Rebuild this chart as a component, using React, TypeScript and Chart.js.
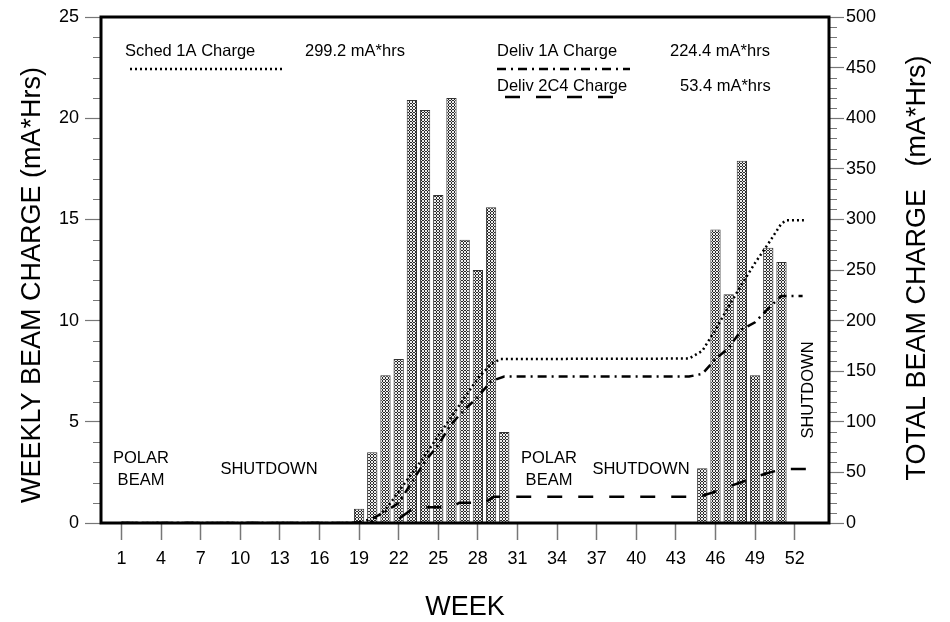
import React, { useEffect, useRef } from "react";
import { Chart, registerables } from "chart.js";

Chart.register(...registerables);

// ---- data ----
const weekTicks = [1, 4, 7, 10, 13, 16, 19, 22, 25, 28, 31, 34, 37, 40, 43, 46, 49, 52];
const leftTicks = [0, 5, 10, 15, 20, 25];
const rightTicks = [0, 50, 100, 150, 200, 250, 300, 350, 400, 450, 500];

const barWeeks = [19, 20, 21, 22, 23, 24, 25, 26, 27, 28, 29, 30, 45, 46, 47, 48, 49, 50, 51];
const weeklyCharge = [0.7, 3.5, 7.3, 8.1, 20.9, 20.4, 16.2, 21.0, 14.0, 12.5, 15.6, 4.5, 2.7, 14.5, 11.3, 17.9, 7.3, 13.6, 12.9];

const schedWeeks = [1, 19.8, 21, 22, 23, 24, 25, 26, 27, 28, 29, 29.7, 44, 45, 46, 47, 48, 49, 50, 51, 51.4, 52.7];
const schedTotal = [0, 0, 13, 31, 49, 67, 86, 105, 124, 143, 157, 162, 162.5, 170, 191, 214, 236, 257, 276, 296, 299.2, 299.2];

const deliv1AWeeks = [1, 18, 19, 20, 21, 22, 23, 24, 25, 26, 27, 28, 29, 30, 44, 45, 46, 47, 48, 49, 50, 51, 52.6];
const deliv1ATotal = [0, 0, 0.7, 4.2, 11.5, 19.6, 40.5, 60.9, 77.1, 98.1, 112.1, 124.6, 140.2, 144.7, 144.7, 147.4, 161.9, 173.2, 191.1, 198.4, 212.0, 224.4, 224.4];

const deliv2C4Weeks = [1, 21.6, 23.2, 26, 26.6, 28.5, 29.2, 44.5, 45, 46, 47, 48, 49, 50, 51, 51.5, 53];
const deliv2C4Total = [0, 0, 15.5, 15.5, 20, 20, 26, 26, 27, 31, 36, 40.5, 45.5, 49.5, 53, 53.4, 53.4];

const FONT = "'Liberation Sans', Arial, sans-serif";
const DOTTED = [2, 3];
const DASHDOT = [9, 5, 2, 5];
const LONGDASH = [15, 16];

function makePattern(): CanvasPattern | string {
  const c = document.createElement("canvas");
  c.width = 3;
  c.height = 3;
  const g = c.getContext("2d");
  if (!g) return "#999";
  g.fillStyle = "#eeeeee";
  g.fillRect(0, 0, 3, 3);
  g.fillStyle = "#2a2a2a";
  g.fillRect(1, 0, 1, 1);
  g.fillRect(0, 1, 1, 1);
  g.fillRect(2, 1, 1, 1);
  g.fillRect(1, 2, 1, 1);
  const p = g.createPattern(c, "repeat");
  return p || "#999";
}

const decorPlugin = {
  id: "decor",
  afterDraw(chart: any) {
    const { ctx, chartArea } = chart;
    const { left, right, top, bottom } = chartArea;
    const yS = chart.scales.y;
    const y2S = chart.scales.y2;
    ctx.save();
    // minor ticks
    ctx.strokeStyle = "#777";
    ctx.lineWidth = 1.2;
    ctx.beginPath();
    for (let v = 0; v <= 25; v++) {
      if (v % 5 === 0) continue;
      const y = Math.round(yS.getPixelForValue(v)) + 0.5;
      ctx.moveTo(left - 8, y);
      ctx.lineTo(left, y);
    }
    for (let v = 0; v <= 500; v += 10) {
      if (v % 50 === 0) continue;
      const y = Math.round(y2S.getPixelForValue(v)) + 0.5;
      ctx.moveTo(right, y);
      ctx.lineTo(right + 8, y);
    }
    ctx.stroke();
    // frame
    ctx.strokeStyle = "#000";
    ctx.lineWidth = 3;
    ctx.strokeRect(left, top, right - left, bottom - top);

    // axis titles
    ctx.fillStyle = "#000";
    ctx.textAlign = "center";
    ctx.textBaseline = "middle";
    ctx.font = `27px ${FONT}`;
    ctx.fillText("WEEK", 465, 608);
    ctx.save();
    ctx.translate(33, 285);
    ctx.rotate(-Math.PI / 2);
    ctx.fillText("WEEKLY BEAM CHARGE (mA*Hrs)", 0, 0);
    ctx.restore();
    ctx.save();
    ctx.translate(918, 268);
    ctx.rotate(-Math.PI / 2);
    ctx.fillText("TOTAL BEAM CHARGE   (mA*Hrs)", 0, 0);
    ctx.restore();

    // annotations
    ctx.font = `16.5px ${FONT}`;
    ctx.fillText("POLAR", 141, 458);
    ctx.fillText("BEAM", 141, 480);
    ctx.fillText("SHUTDOWN", 269, 469);
    ctx.fillText("POLAR", 549, 458);
    ctx.fillText("BEAM", 549, 480);
    ctx.fillText("SHUTDOWN", 641, 469);
    ctx.save();
    ctx.translate(808, 390);
    ctx.rotate(-Math.PI / 2);
    ctx.fillText("SHUTDOWN", 0, 0);
    ctx.restore();

    // legend
    ctx.textAlign = "left";
    ctx.font = `16.5px ${FONT}`;
    ctx.fillText("Sched 1A Charge", 125, 51);
    ctx.fillText("299.2 mA*hrs", 305, 51);
    ctx.fillText("Deliv 1A Charge", 497, 51);
    ctx.fillText("224.4 mA*hrs", 670, 51);
    ctx.fillText("Deliv 2C4 Charge", 497, 86);
    ctx.fillText("53.4 mA*hrs", 680, 86);
    ctx.strokeStyle = "#000";
    ctx.lineWidth = 2.5;
    const sample = (x1: number, x2: number, y: number, dash: number[]) => {
      ctx.setLineDash(dash);
      ctx.beginPath();
      ctx.moveTo(x1, y);
      ctx.lineTo(x2, y);
      ctx.stroke();
    };
    sample(130, 283, 69, DOTTED);
    sample(497, 630, 69, DASHDOT);
    sample(505, 617, 97, LONGDASH);
    ctx.restore();
  },
};

export default function App() {
  const ref = useRef<HTMLCanvasElement | null>(null);
  useEffect(() => {
    document.body.style.margin = "0";
    const canvas = ref.current;
    if (!canvas) return;
    const pattern = makePattern();
    const pts = (xs: number[], ys: number[]) => xs.map((x, i) => ({ x, y: ys[i] }));
    const lineDs = (label: string, xs: number[], ys: number[], dash: number[]) => ({
      type: "line" as const,
      label,
      data: pts(xs, ys),
      yAxisID: "y2",
      xAxisID: "x",
      borderColor: "#000",
      borderWidth: 2.5,
      borderDash: dash,
      borderCapStyle: "butt" as const,
      pointRadius: 0,
      fill: false,
      tension: 0,
      order: 1,
    });
    const chart = new Chart(canvas, {
      type: "bar",
      data: {
        datasets: [
          {
            type: "bar",
            label: "Weekly",
            data: pts(barWeeks, weeklyCharge),
            backgroundColor: pattern as any,
            borderColor: "#333",
            borderWidth: 1,
            barPercentage: 0.78,
            categoryPercentage: 1,
            yAxisID: "y",
            xAxisID: "x",
            order: 2,
          } as any,
          lineDs("Sched 1A Charge", schedWeeks, schedTotal, DOTTED),
          lineDs("Deliv 1A Charge", deliv1AWeeks, deliv1ATotal, DASHDOT),
          lineDs("Deliv 2C4 Charge", deliv2C4Weeks, deliv2C4Total, LONGDASH),
        ],
      },
      options: {
        responsive: false,
        animation: false,
        devicePixelRatio: 1,
        layout: { padding: { top: 17, left: 0, right: 0, bottom: 0 } },
        plugins: { legend: { display: false }, tooltip: { enabled: false }, title: { display: false } },
        scales: {
          x: {
            type: "linear",
            offset: false,
            min: -0.55,
            max: 54.6,
            afterBuildTicks: (s: any) => {
              s.ticks = weekTicks.map((v) => ({ value: v }));
            },
            afterFit: (s: any) => {
              s.height = 99;
            },
            grid: { offset: false, drawOnChartArea: false, drawTicks: true, tickLength: 17, tickColor: "#777", tickWidth: 1.5 },
            border: { display: false },
            ticks: { color: "#000", font: { family: FONT, size: 18 }, padding: 8, maxRotation: 0, autoSkip: false },
          },
          y: {
            position: "left",
            min: 0,
            max: 25,
            afterBuildTicks: (s: any) => {
              s.ticks = leftTicks.map((v) => ({ value: v }));
            },
            afterFit: (s: any) => {
              s.width = 101;
            },
            grid: { drawOnChartArea: false, drawTicks: true, tickLength: 16, tickColor: "#777", tickWidth: 1.2 },
            border: { display: false },
            ticks: { color: "#000", font: { family: FONT, size: 18 }, padding: 6 },
          },
          y2: {
            position: "right",
            min: 0,
            max: 500,
            afterBuildTicks: (s: any) => {
              s.ticks = rightTicks.map((v) => ({ value: v }));
            },
            afterFit: (s: any) => {
              s.width = 121;
            },
            grid: { drawOnChartArea: false, drawTicks: true, tickLength: 15, tickColor: "#777", tickWidth: 1.2 },
            border: { display: false },
            ticks: { color: "#000", font: { family: FONT, size: 18 }, padding: 2 },
          },
        },
      },
      plugins: [decorPlugin],
    } as any);
    return () => chart.destroy();
  }, []);
  return <canvas ref={ref} width={950} height={622} style={{ display: "block" }} />;
}
